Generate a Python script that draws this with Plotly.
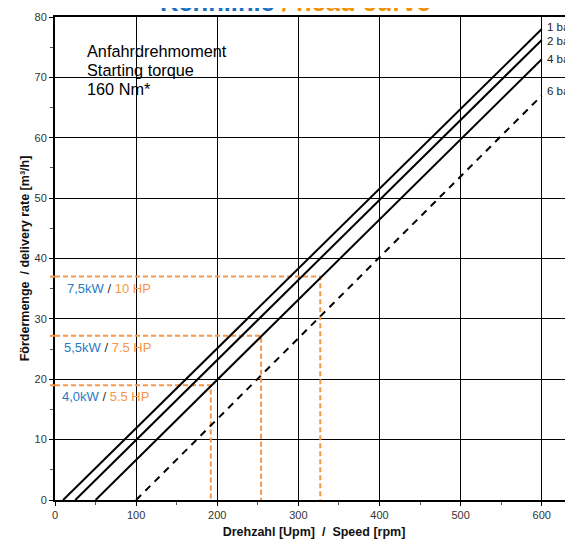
import plotly.graph_objects as go

# ---- data ----
pressure_labels = ["1 bar", "2 bar", "4 bar", "6 bar"]
speed_at_zero = [10, 25, 50, 100]        # rpm where delivery rate = 0
speed_at_end = [600, 600, 600, 600]      # rpm
flow_at_end = [78.0, 76.2, 73.0, 67.0]   # m³/h at 600 rpm
label_y = [78.3, 76.0, 73.1, 67.8]

motor_kw = ["4,0kW", "5,5kW", "7,5kW"]
motor_hp = ["5.5 HP", "7.5 HP", "10 HP"]
motor_flow = [19.0, 27.2, 37.0]
motor_speed = [192, 254, 327]
motor_label_x = [6, 9, 12]

torque_lines = ["Anfahrdrehmoment", "Starting torque", "160 Nm*"]

x_ticks = [0, 100, 200, 300, 400, 500, 600]
y_ticks = [0, 10, 20, 30, 40, 50, 60, 70, 80]

BLUE = "#2a7bc4"
ORANGE = "#f79646"
FONT = "Liberation Sans, Arial, sans-serif"

# page body has an 8px margin; plot area target (window px): x 55..573, y 17..500
OFF = 8
W, H = 573 - OFF, 539 - OFF
L, T = 55 - OFF, 17 - OFF
R = 0
B = H - (500 - OFF)
PW, PH = 573 - 55, 500 - 17


def px(xw):
    return (xw - 55) / PW


def py(yw):
    return (500 - yw) / PH


fig = go.Figure()

# orange motor limit lines
for fl, sp in zip(motor_flow, motor_speed):
    fig.add_trace(go.Scatter(
        x=[0, sp, sp], y=[fl, fl, 0], mode="lines",
        line=dict(color=ORANGE, width=2, dash="5px,3px"),
        hoverinfo="skip", showlegend=False))
    # short stub left of the y axis
    fig.add_shape(type="line", xref="paper", yref="y", x0=px(50), x1=0, y0=fl, y1=fl,
                  line=dict(color=ORANGE, width=2), layer="above")

# pressure lines
for i, name in enumerate(pressure_labels):
    fig.add_trace(go.Scatter(
        x=[speed_at_zero[i], speed_at_end[i]], y=[0, flow_at_end[i]],
        mode="lines", name=name,
        line=dict(color="black", width=2, dash="7px,6px" if name == "6 bar" else "solid"),
        showlegend=False))
    fig.add_annotation(x=speed_at_end[i], y=label_y[i], text=name, showarrow=False,
                       xanchor="left", yanchor="middle", xshift=3,
                       font=dict(family=FONT, size=11.5, color="#222"))

for i in range(len(motor_kw)):
    fig.add_annotation(
        x=motor_label_x[i], y=motor_flow[i], yshift=-11.5,
        text=f"<span style='color:{BLUE}'>{motor_kw[i]}</span>"
             f"<span style='color:#333'> / </span>"
             f"<span style='color:{ORANGE}'>{motor_hp[i]}</span>",
        showarrow=False, xanchor="left", yanchor="middle",
        font=dict(family=FONT, size=13))

# starting torque box
fig.add_shape(type="rect", xref="paper", yref="paper",
              x0=px(81), x1=px(234), y0=py(99), y1=py(36),
              fillcolor="white", line=dict(width=0), layer="between")
for j, (txt, yw) in enumerate(zip(torque_lines, [51, 70, 89])):
    fig.add_annotation(xref="paper", yref="paper",
                       x=px(85), y=py(yw), text=txt,
                       showarrow=False, xanchor="left", yanchor="middle", align="left",
                       font=dict(family=FONT, size=16.3, color="black"))

# title (partially cut off at top)
fig.add_annotation(xref="paper", yref="paper", x=px(295), y=1,
                   yanchor="bottom", yshift=-1.5,
                   text=f"<b><span style='color:#1c6fc0'>Kennlinie</span>"
                        f"<span style='color:#f39200'> / head curve</span></b>",
                   showarrow=False, font=dict(family=FONT, size=25.5))

fig.update_layout(
    width=W, height=H,
    margin=dict(l=L, r=R, t=T, b=B, autoexpand=False),
    plot_bgcolor="white", paper_bgcolor="white",
    font=dict(family=FONT, size=11, color="#333"),
)
fig.update_xaxes(
    range=[0, 638.5], tickvals=x_ticks, showgrid=True, gridcolor="black", gridwidth=1,
    showline=True, linecolor="black", linewidth=2, mirror=True,
    ticks="outside", ticklen=4, tickcolor="black",
    minor=dict(dtick=50, ticks="outside", ticklen=3, tickcolor="#555", showgrid=False),
    zeroline=False, automargin=False,
    title=dict(text="<b>Drehzahl [Upm]  /  Speed [rpm]</b>", standoff=7,
               font=dict(family=FONT, size=12.5, color="#111")),
    tickfont=dict(family=FONT, size=11, color="#333"),
)
fig.update_yaxes(
    range=[0, 80], tickvals=y_ticks, showgrid=True, gridcolor="black", gridwidth=1,
    showline=True, linecolor="black", linewidth=2, mirror=False,
    ticks="outside", ticklen=4, tickcolor="black",
    minor=dict(dtick=5, ticks="outside", ticklen=3, tickcolor="#555", showgrid=False),
    zeroline=False, automargin=False,
    title=dict(text="<b>Fördermenge  / delivery rate [m³/h]</b>", standoff=2,
               font=dict(family=FONT, size=12.5, color="#111")),
    tickfont=dict(family=FONT, size=11, color="#333"),
)

fig.write_html("out.html")
